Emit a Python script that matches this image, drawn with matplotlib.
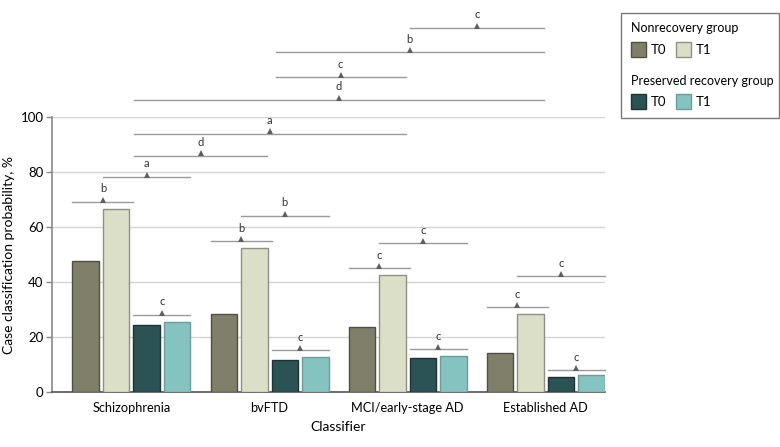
import numpy as np
import matplotlib.pyplot as plt
from matplotlib.patches import Rectangle

plt.rcParams['font.family'] = ['Lato', 'DejaVu Sans']

# classifier groups and case classification probability, %
classifiers = ["Schizophrenia", "bvFTD", "MCI/early-stage AD", "Established AD"]
nonrec_t0 = [47.5, 28.2, 23.8, 14.1]
nonrec_t1 = [66.5, 52.2, 42.7, 28.2]
pres_t0 = [24.5, 11.5, 12.2, 5.3]
pres_t1 = [25.5, 12.6, 13.0, 6.1]

series_labels = ["T0", "T1", "T0", "T1"]
group_titles = ["Nonrecovery group", "Preserved recovery group"]

# significance brackets inside each classifier (letter, level)
nonrec_sig = [("b", 69.2), ("b", 54.8), ("c", 45.0), ("c", 30.8)]
pres_sig = [("c", 28.0), ("c", 15.2), ("c", 15.5), ("c", 7.9)]
between_sig = [("a", 78.2), ("b", 64.0), ("c", 54.1), ("c", 42.1)]
# brackets between classifiers (from, to, letter, level)
cross_sig = [(0, 1, "d", 86.0), (0, 2, "a", 94.0), (0, 3, "d", 106.2),
             (1, 2, "c", 114.4), (1, 3, "b", 123.5), (2, 3, "c", 132.4)]

colors = ["#807f69", "#dcdfc8", "#2b5355", "#85c3c1"]
edges = ["#4f4f44", "#8f8f84", "#1c3435", "#6b9c9b"]

fig = plt.figure(figsize=(7.8, 4.47), dpi=100)
ax = fig.add_axes([52/780, 55/447, 553/780, 275/447])

x = np.arange(len(classifiers))
step = 0.221
width = 0.192
offsets = (np.arange(4) - 1.5) * step
for k, vals in enumerate([nonrec_t0, nonrec_t1, pres_t0, pres_t1]):
    ax.bar(x + offsets[k], vals, width, color=colors[k], edgecolor=edges[k],
           linewidth=1, zorder=3)

ax.set_xlim(-0.575, 3.428)
ax.set_ylim(0, 100)
ax.set_yticks(range(0, 101, 20))
ax.set_xticks(x)
ax.set_xticklabels(classifiers, fontsize=9.2)
ax.tick_params(axis='x', length=0, pad=7)
ax.tick_params(axis='y', length=4, width=1, color="#888888", labelsize=9.5, pad=2)
ax.grid(axis='y', color="#d4d4d4", linewidth=1, zorder=0)
for s in ["top", "right"]:
    ax.spines[s].set_visible(False)
ax.spines["left"].set_color("#8a8a8a")
ax.spines["left"].set_linewidth(1.2)
ax.spines["bottom"].set_color("#555555")
ax.spines["bottom"].set_linewidth(1.2)
ax.set_ylabel("Case classification probability, %", fontsize=10, labelpad=4)
ax.set_xlabel("Classifier", fontsize=10)
ax.xaxis.set_label_coords(0.518, -0.105)


def bar_left(g, k):
    return g + offsets[k] - width / 2


def bar_right(g, k):
    return g + offsets[k] + width / 2


def bracket(x0, x1, y, letter):
    mid = (x0 + x1) / 2
    ax.plot([x0, x1], [y, y], color="#9b9b9b", lw=1, clip_on=False, zorder=4)
    ax.plot(mid, y + 0.8, marker="^", ms=5, color="#5e5e5e", mew=0,
            clip_on=False, zorder=5)
    ax.annotate(letter, (mid, y), xytext=(0, 5.5), textcoords="offset points",
                ha="center", va="bottom", fontsize=8, color="#333333",
                annotation_clip=False)


for g in range(len(classifiers)):
    bracket(bar_left(g, 0), bar_left(g, 2), nonrec_sig[g][1], nonrec_sig[g][0])
    bracket(bar_left(g, 2), bar_right(g, 3), pres_sig[g][1], pres_sig[g][0])
    bracket(bar_left(g, 1), bar_right(g, 3), between_sig[g][1], between_sig[g][0])

start_shift = {0: 0.02, 1: 0.045, 2: 0.015}
for g0, g1, letter, y in cross_sig:
    bracket(g0 + start_shift[g0], g1 - 0.016, y, letter)

# legend drawn by hand in figure pixels
W, H = 780, 447


def fx(px):
    return px / W


def fy(py):
    return 1 - py / H


fig.patches.append(Rectangle((fx(621), fy(118)), fx(779) - fx(621), fy(13) - fy(118),
                             transform=fig.transFigure, fill=False,
                             edgecolor="#7a7a7a", lw=1))
rows = [(28, 42.5), (81, 94.5)]
for i, (ty, sy) in enumerate(rows):
    fig.text(fx(631), fy(ty), group_titles[i], fontsize=9, va="center", ha="left")
    for j, sx in enumerate([631, 676]):
        k = 2 * i + j
        fig.patches.append(Rectangle((fx(sx), fy(sy + 14)), 15/W, 14/H,
                                     transform=fig.transFigure,
                                     facecolor=colors[k], edgecolor=edges[k], lw=1))
        fig.text(fx(sx + 20), fy(sy + 7), series_labels[k], fontsize=9.5,
                 va="center", ha="left")

fig.savefig("out.png", dpi=100)
